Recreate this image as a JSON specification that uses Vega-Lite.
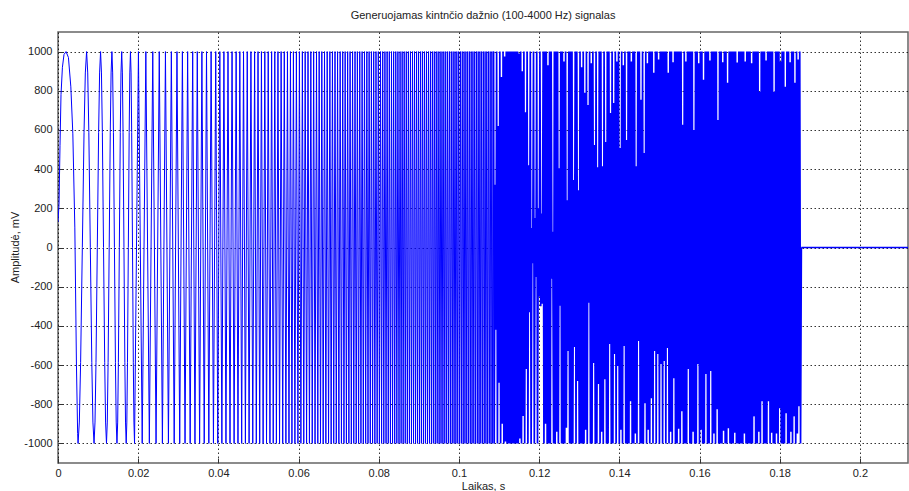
{
"$schema":"https://vega.github.io/schema/vega-lite/v6.json",
"width":850,"height":431,
"autosize":{"type":"none"},
"padding":{"left":58,"top":32,"right":1,"bottom":28},
"background":"white",
"title":{"text":"Generuojamas kintnčio dažnio (100-4000 Hz) signalas","font":"Liberation Sans","fontSize":11,"fontWeight":"normal","color":"#222","offset":11,"anchor":"middle"},
"config":{"view":{"stroke":"#666","strokeWidth":1.5},
"axis":{"labelFont":"Liberation Sans","labelFontSize":11,"labelColor":"#222","titleFont":"Liberation Sans","titleFontSize":11,"titleFontWeight":"normal","titleColor":"#222","labelFlush":false,"labelOverlap":false,"gridDash":[1.5,2.5],"gridColor":"#000","gridOpacity":0.8,"gridWidth":1,"tickColor":"#333","tickSize":-5,"domain":false,"zindex":0}},
"data":{"values":[
{"t":0,"a":130},{"t":0.00025,"a":220},{"t":0.0005,"a":520},{"t":0.00075,"a":780},{"t":0.0011,"a":920},{"t":0.0015,"a":985},{"t":0.002,"a":1000},{"t":0.0026,"a":970},{"t":0.0032,"a":820},{"t":0.0037,"a":580},{"t":0.0042,"a":100},{"t":0.0046,"a":-600},{"t":0.0049,"a":-950},{"t":0.005,"a":-1000},
{"t":0.00532,"a":-891},{"t":0.005641,"a":-588},{"t":0.006068,"a":0},{"t":0.006495,"a":588},{"t":0.006815,"a":891},{"t":0.007135,"a":1000},
{"t":0.007413,"a":891},{"t":0.007691,"a":588},{"t":0.008061,"a":0},{"t":0.008431,"a":-588},{"t":0.008709,"a":-891},{"t":0.008987,"a":-1000},
{"t":0.009232,"a":-891},{"t":0.009476,"a":-588},{"t":0.009803,"a":0},{"t":0.010129,"a":588},{"t":0.010374,"a":891},{"t":0.010618,"a":1000},
{"t":0.010839,"a":891},{"t":0.01106,"a":588},{"t":0.011355,"a":0},{"t":0.011649,"a":-588},{"t":0.01187,"a":-891},{"t":0.012091,"a":-1000},
{"t":0.012294,"a":-891},{"t":0.012497,"a":-588},{"t":0.012768,"a":0},{"t":0.013039,"a":588},{"t":0.013242,"a":891},{"t":0.013445,"a":1000},
{"t":0.013634,"a":891},{"t":0.013823,"a":588},{"t":0.014076,"a":0},{"t":0.014328,"a":-588},{"t":0.014517,"a":-891},{"t":0.014706,"a":-1000},
{"t":0.014884,"a":-891},{"t":0.015061,"a":-588},{"t":0.015298,"a":0},{"t":0.015535,"a":588},{"t":0.015712,"a":891},{"t":0.01589,"a":1000},
{"t":0.016058,"a":891},{"t":0.016226,"a":588},{"t":0.01645,"a":0},{"t":0.016673,"a":-588},{"t":0.016841,"a":-891},{"t":0.017009,"a":-1000},
{"t":0.017169,"a":-891},{"t":0.017328,"a":-588},{"t":0.017541,"a":0},{"t":0.017754,"a":588},{"t":0.017913,"a":891},{"t":0.018073,"a":1000},
{"t":0.018226,"a":891},{"t":0.018378,"a":588},{"t":0.018582,"a":0},{"t":0.018785,"a":-588},{"t":0.018937,"a":-891},{"t":0.01909,"a":-1000},
{"t":0.020065,"a":1000},{"t":0.021003,"a":-1000},{"t":0.021909,"a":1000},{"t":0.022784,"a":-1000},{"t":0.023633,"a":1000},{"t":0.024457,"a":-1000},{"t":0.025258,"a":1000},{"t":0.026039,"a":-1000},{"t":0.0268,"a":1000},{"t":0.027543,"a":-1000},{"t":0.02827,"a":1000},{"t":0.02898,"a":-1000},{"t":0.029676,"a":1000},{"t":0.030359,"a":-1000},{"t":0.031028,"a":1000},{"t":0.031685,"a":-1000},{"t":0.03233,"a":1000},{"t":0.032965,"a":-1000},{"t":0.033589,"a":1000},
{"t":0.03416,"a":-1000},{"t":0.03474,"a":1000},{"t":0.03532,"a":-1000},{"t":0.03589,"a":1000},{"t":0.03647,"a":-1000},{"t":0.03704,"a":1000},{"t":0.03762,"a":-1000},{"t":0.03819,"a":1000},{"t":0.03877,"a":-1000},{"t":0.03934,"a":1000},
{"t":0.03985,"a":-1000},{"t":0.04036,"a":1000},{"t":0.04087,"a":-1000},{"t":0.04138,"a":1000},{"t":0.04189,"a":-1000},{"t":0.0424,"a":1000},{"t":0.0429,"a":-1000},{"t":0.04341,"a":1000},{"t":0.04392,"a":-1000},{"t":0.04443,"a":1000},
{"t":0.04489,"a":-1000},{"t":0.04535,"a":1000},{"t":0.04581,"a":-1000},{"t":0.04627,"a":1000},{"t":0.04674,"a":-1000},{"t":0.0472,"a":1000},{"t":0.04766,"a":-1000},{"t":0.04812,"a":1000},{"t":0.04858,"a":-1000},{"t":0.04904,"a":1000},
{"t":0.04946,"a":-1000},{"t":0.04989,"a":1000},{"t":0.05031,"a":-1000},{"t":0.05074,"a":1000},{"t":0.05116,"a":-1000},{"t":0.05158,"a":1000},{"t":0.05201,"a":-1000},{"t":0.05243,"a":1000},{"t":0.05286,"a":-1000},{"t":0.05328,"a":1000},
{"t":0.05368,"a":-1000},{"t":0.05407,"a":1000},{"t":0.05447,"a":-1000},{"t":0.05486,"a":1000},{"t":0.05526,"a":-1000},{"t":0.05565,"a":1000},{"t":0.05605,"a":-1000},{"t":0.05644,"a":1000},{"t":0.05684,"a":-1000},{"t":0.05723,"a":1000},
{"t":0.05761,"a":-1000},{"t":0.05798,"a":1000},{"t":0.05835,"a":-1000},{"t":0.05872,"a":1000},{"t":0.05909,"a":-1000},{"t":0.05946,"a":1000},{"t":0.05984,"a":-1000},{"t":0.06021,"a":1000},{"t":0.06058,"a":-1000},{"t":0.06095,"a":1000},
{"t":0.0613,"a":-1000},{"t":0.06165,"a":1000},{"t":0.062,"a":-1000},{"t":0.06236,"a":1000},{"t":0.06271,"a":-1000},{"t":0.06306,"a":1000},{"t":0.06341,"a":-1000},{"t":0.06376,"a":1000},{"t":0.06411,"a":-1000},{"t":0.06447,"a":1000},
{"t":0.0648,"a":-1000},{"t":0.06514,"a":1000},{"t":0.06547,"a":-1000},{"t":0.0658,"a":1000},{"t":0.06614,"a":-1000},{"t":0.06647,"a":1000},{"t":0.06681,"a":-1000},{"t":0.06714,"a":1000},{"t":0.06748,"a":-1000},{"t":0.06781,"a":1000},
{"t":0.06813,"a":-1000},{"t":0.06845,"a":1000},{"t":0.06877,"a":-1000},{"t":0.06909,"a":1000},{"t":0.06941,"a":-1000},{"t":0.06973,"a":1000},{"t":0.07005,"a":-1000},{"t":0.07037,"a":1000},{"t":0.07069,"a":-1000},{"t":0.07101,"a":1000},
{"t":0.07132,"a":-1000},{"t":0.07162,"a":1000},{"t":0.07193,"a":-1000},{"t":0.07224,"a":1000},{"t":0.07255,"a":-1000},{"t":0.07285,"a":1000},{"t":0.07316,"a":-1000},{"t":0.07347,"a":1000},{"t":0.07377,"a":-1000},{"t":0.07408,"a":1000},
{"t":0.07438,"a":-1000},{"t":0.07467,"a":1000},{"t":0.07497,"a":-1000},{"t":0.07526,"a":1000},{"t":0.07556,"a":-1000},{"t":0.07585,"a":1000},{"t":0.07615,"a":-1000},{"t":0.07644,"a":1000},{"t":0.07674,"a":-1000},{"t":0.07703,"a":1000},
{"t":0.07732,"a":-1000},{"t":0.0776,"a":1000},{"t":0.07789,"a":-1000},{"t":0.07817,"a":1000},{"t":0.07846,"a":-1000},{"t":0.07874,"a":1000},{"t":0.07903,"a":-1000},{"t":0.07931,"a":1000},{"t":0.0796,"a":-1000},{"t":0.07989,"a":1000},
{"t":0.08016,"a":-1000},{"t":0.08044,"a":1000},{"t":0.08071,"a":-1000},{"t":0.08099,"a":1000},{"t":0.08126,"a":-1000},{"t":0.08154,"a":1000},{"t":0.08182,"a":-1000},{"t":0.08209,"a":1000},{"t":0.08237,"a":-1000},{"t":0.08264,"a":1000},
{"t":0.08291,"a":-1000},{"t":0.08318,"a":1000},{"t":0.08344,"a":-1000},{"t":0.08371,"a":1000},{"t":0.08398,"a":-1000},{"t":0.08425,"a":1000},{"t":0.08451,"a":-1000},{"t":0.08478,"a":1000},{"t":0.08505,"a":-1000},{"t":0.08532,"a":1000},
{"t":0.08558,"a":-1000},{"t":0.08584,"a":1000},{"t":0.08609,"a":-1000},{"t":0.08635,"a":1000},{"t":0.08661,"a":-1000},{"t":0.08687,"a":1000},{"t":0.08713,"a":-1000},{"t":0.08739,"a":1000},{"t":0.08765,"a":-1000},{"t":0.08791,"a":1000},
{"t":0.08816,"a":-1000},{"t":0.08842,"a":1000},{"t":0.08867,"a":-1000},{"t":0.08892,"a":1000},{"t":0.08918,"a":-1000},{"t":0.08943,"a":1000},{"t":0.08968,"a":-1000},{"t":0.08993,"a":1000},{"t":0.09019,"a":-1000},{"t":0.09044,"a":1000},
{"t":0.09068,"a":-1000},{"t":0.09093,"a":1000},{"t":0.09118,"a":-1000},{"t":0.09142,"a":1000},{"t":0.09167,"a":-1000},{"t":0.09191,"a":1000},{"t":0.09216,"a":-1000},{"t":0.09241,"a":1000},{"t":0.09265,"a":-1000},{"t":0.0929,"a":1000},
{"t":0.09314,"a":-1000},{"t":0.09338,"a":1000},{"t":0.09362,"a":-1000},{"t":0.09386,"a":1000},{"t":0.0941,"a":-1000},{"t":0.09434,"a":1000},{"t":0.09458,"a":-1000},{"t":0.09482,"a":1000},{"t":0.09506,"a":-1000},{"t":0.0953,"a":1000},
{"t":0.09553,"a":-1000},{"t":0.09577,"a":1000},{"t":0.096,"a":-1000},{"t":0.09623,"a":1000},{"t":0.09647,"a":-1000},{"t":0.0967,"a":1000},{"t":0.09694,"a":-1000},{"t":0.09717,"a":1000},{"t":0.09741,"a":-1000},{"t":0.09764,"a":1000},
{"t":0.09787,"a":-1000},{"t":0.0981,"a":1000},{"t":0.09833,"a":-1000},{"t":0.09856,"a":1000},{"t":0.09879,"a":-1000},{"t":0.09902,"a":1000},{"t":0.09924,"a":-1000},{"t":0.09947,"a":1000},{"t":0.0997,"a":-1000},{"t":0.09993,"a":1000},
{"t":0.10016,"a":-1000},{"t":0.10038,"a":1000},{"t":0.10061,"a":-1000},{"t":0.10083,"a":1000},{"t":0.10106,"a":-1000},{"t":0.10128,"a":1000},{"t":0.1015,"a":-1000},{"t":0.10173,"a":1000},{"t":0.10195,"a":-1000},{"t":0.10217,"a":1000},
{"t":0.10239,"a":-1000},{"t":0.10261,"a":1000},{"t":0.10283,"a":-1000},{"t":0.10305,"a":1000},{"t":0.10327,"a":-1000},{"t":0.10349,"a":1000},{"t":0.10371,"a":-1000},{"t":0.10393,"a":1000},{"t":0.10415,"a":-1000},{"t":0.10437,"a":1000},
{"t":0.10459,"a":-1000},{"t":0.1048,"a":1000},{"t":0.10502,"a":-1000},{"t":0.10523,"a":1000},{"t":0.10545,"a":-1000},{"t":0.10566,"a":1000},{"t":0.10588,"a":-1000},{"t":0.10609,"a":1000},{"t":0.10631,"a":-1000},{"t":0.10652,"a":1000},
{"t":0.10673,"a":-1000},{"t":0.10694,"a":1000},{"t":0.10716,"a":-1000},{"t":0.10737,"a":1000},{"t":0.10758,"a":-1000},{"t":0.10779,"a":1000},{"t":0.108,"a":-1000},{"t":0.10821,"a":1000},{"t":0.10842,"a":-1000},{"t":0.10863,"a":1000},
{"t":0.1088,"a":-1000},{"t":0.109,"a":320},{"t":0.1092,"a":-420},{"t":0.1094,"a":1000},{"t":0.1096,"a":-1000},{"t":0.1098,"a":620},{"t":0.11,"a":-690},{"t":0.1102,"a":1000},{"t":0.1104,"a":-1000},{"t":0.1106,"a":870},{"t":0.1108,"a":-900},{"t":0.111,"a":1000},{"t":0.1112,"a":-1000},{"t":0.1114,"a":975},{"t":0.1116,"a":-990},
{"t":0.1118,"a":1000},{"t":0.112,"a":-1000},{"t":0.1122,"a":1000},{"t":0.1124,"a":-1000},{"t":0.1126,"a":1000},{"t":0.1128,"a":-1000},{"t":0.113,"a":1000},{"t":0.1132,"a":-1000},{"t":0.1134,"a":1000},{"t":0.1136,"a":-1000},{"t":0.1138,"a":1000},{"t":0.114,"a":-1000},{"t":0.1142,"a":1000},{"t":0.1144,"a":-1000},{"t":0.1146,"a":1000},{"t":0.1148,"a":-1000},
{"t":0.115,"a":990},{"t":0.1152,"a":-975},{"t":0.1154,"a":1000},{"t":0.1156,"a":-1000},{"t":0.1158,"a":900},{"t":0.116,"a":-860},{"t":0.1162,"a":1000},{"t":0.1164,"a":-1000},{"t":0.1166,"a":690},{"t":0.1168,"a":-620},{"t":0.117,"a":1000},{"t":0.1172,"a":-1000},{"t":0.1174,"a":420},{"t":0.1176,"a":-330},{"t":0.1178,"a":1000},{"t":0.118,"a":-1000},{"t":0.1182,"a":100},{"t":0.1184,"a":-80},{"t":0.1186,"a":1000},{"t":0.1188,"a":-1000},{"t":0.119,"a":150},{"t":0.1192,"a":-150},{"t":0.1194,"a":1000},{"t":0.1196,"a":-1000},{"t":0.1198,"a":200},{"t":0.12,"a":-250},{"t":0.1202,"a":1000},{"t":0.1204,"a":-300},
{"t":0.1206,"a":174},{"t":0.1208,"a":-287},{"t":0.121,"a":1000},{"t":0.1212,"a":-1000},{"t":0.1214,"a":1000},{"t":0.1216,"a":-900},{"t":0.1218,"a":1000},{"t":0.122,"a":-1000},{"t":0.1222,"a":930},{"t":0.1224,"a":-1000},{"t":0.1226,"a":1000},{"t":0.1228,"a":-1000},{"t":0.123,"a":1000},{"t":0.1232,"a":-159},{"t":0.1234,"a":80},{"t":0.1236,"a":-1000},{"t":0.1238,"a":1000},{"t":0.124,"a":-1000},{"t":0.1242,"a":1000},{"t":0.1244,"a":-940},{"t":0.1246,"a":1000},{"t":0.1248,"a":-1000},{"t":0.125,"a":405},{"t":0.1252,"a":-297},{"t":0.1254,"a":1000},{"t":0.1256,"a":-1000},{"t":0.1258,"a":1000},{"t":0.126,"a":-1000},{"t":0.1262,"a":950},{"t":0.1264,"a":-1000},{"t":0.1266,"a":1000},{"t":0.1268,"a":-920},{"t":0.127,"a":241},{"t":0.1272,"a":-528},{"t":0.1274,"a":1000},{"t":0.1276,"a":-1000},{"t":0.1278,"a":1000},{"t":0.128,"a":-1000},{"t":0.1282,"a":1000},{"t":0.1284,"a":-1000},{"t":0.1286,"a":344},{"t":0.1288,"a":-508},{"t":0.129,"a":1000},{"t":0.1292,"a":-1000},{"t":0.1294,"a":1000},{"t":0.1296,"a":-682},{"t":0.1298,"a":292},{"t":0.13,"a":-1000},
{"t":0.1302,"a":1000},{"t":0.1304,"a":-1000},{"t":0.1306,"a":920},{"t":0.1308,"a":-1000},{"t":0.131,"a":1000},{"t":0.1312,"a":-1000},{"t":0.1314,"a":790},{"t":0.1316,"a":-930},{"t":0.1318,"a":1000},{"t":0.132,"a":-1000},{"t":0.1322,"a":728},{"t":0.1324,"a":-282},{"t":0.1326,"a":1000},{"t":0.1328,"a":-1000},{"t":0.133,"a":940},{"t":0.1332,"a":-1000},{"t":0.1334,"a":1000},{"t":0.1336,"a":-590},{"t":0.1338,"a":523},{"t":0.134,"a":-1000},{"t":0.1342,"a":1000},{"t":0.1344,"a":-1000},{"t":0.1346,"a":410},{"t":0.1348,"a":-697},{"t":0.135,"a":1000},{"t":0.1352,"a":-1000},{"t":0.1354,"a":1000},{"t":0.1356,"a":-940},{"t":0.1358,"a":415},{"t":0.136,"a":-1000},{"t":0.1362,"a":1000},{"t":0.1364,"a":-672},{"t":0.1366,"a":538},{"t":0.1368,"a":-1000},{"t":0.137,"a":1000},{"t":0.1372,"a":-1000},{"t":0.1374,"a":1000},{"t":0.1376,"a":-492},{"t":0.1378,"a":687},{"t":0.138,"a":-1000},{"t":0.1382,"a":1000},{"t":0.1384,"a":-1000},{"t":0.1386,"a":738},{"t":0.1388,"a":-544},{"t":0.139,"a":1000},{"t":0.1392,"a":-1000},{"t":0.1394,"a":950},{"t":0.1396,"a":-605},{"t":0.1398,"a":1000},{"t":0.14,"a":-1000},
{"t":0.1402,"a":508},{"t":0.1404,"a":-930},{"t":0.1406,"a":1000},{"t":0.1408,"a":-1000},{"t":0.141,"a":930},{"t":0.1412,"a":-503},{"t":0.1414,"a":1000},{"t":0.1416,"a":-1000},{"t":0.1418,"a":549},{"t":0.142,"a":-1000},{"t":0.1422,"a":1000},{"t":0.1424,"a":-1000},{"t":0.1426,"a":1000},{"t":0.1428,"a":-785},{"t":0.143,"a":950},{"t":0.1432,"a":-1000},{"t":0.1434,"a":1000},{"t":0.1436,"a":-1000},{"t":0.1438,"a":1000},{"t":0.144,"a":-950},{"t":0.1442,"a":415},{"t":0.1444,"a":-1000},{"t":0.1446,"a":1000},{"t":0.1448,"a":-477},{"t":0.145,"a":1000},{"t":0.1452,"a":-1000},{"t":0.1454,"a":754},{"t":0.1456,"a":-1000},{"t":0.1458,"a":1000},{"t":0.146,"a":-1000},{"t":0.1462,"a":482},{"t":0.1464,"a":-795},{"t":0.1466,"a":1000},{"t":0.1468,"a":-1000},{"t":0.147,"a":940},{"t":0.1472,"a":-930},{"t":0.1474,"a":1000},{"t":0.1476,"a":-1000},{"t":0.1478,"a":1000},{"t":0.148,"a":-769},{"t":0.1482,"a":1000},{"t":0.1484,"a":-1000},{"t":0.1486,"a":892},{"t":0.1488,"a":-528},{"t":0.149,"a":1000},{"t":0.1492,"a":-1000},{"t":0.1494,"a":1000},{"t":0.1496,"a":-544},{"t":0.1498,"a":960},{"t":0.15,"a":-1000},
{"t":0.1502,"a":1000},{"t":0.1504,"a":-595},{"t":0.1506,"a":1000},{"t":0.1508,"a":-1000},{"t":0.151,"a":1000},{"t":0.1512,"a":-579},{"t":0.1514,"a":1000},{"t":0.1516,"a":-1000},{"t":0.1518,"a":1000},{"t":0.152,"a":-513},{"t":0.1522,"a":892},{"t":0.1524,"a":-1000},{"t":0.1526,"a":1000},{"t":0.1528,"a":-940},{"t":0.153,"a":1000},{"t":0.1532,"a":-1000},{"t":0.1534,"a":945},{"t":0.1536,"a":-667},{"t":0.1538,"a":1000},{"t":0.154,"a":-1000},{"t":0.1542,"a":1000},{"t":0.1544,"a":-1000},{"t":0.1546,"a":1000},{"t":0.1548,"a":-925},{"t":0.155,"a":1000},{"t":0.1552,"a":-1000},{"t":0.1554,"a":1000},{"t":0.1556,"a":-836},{"t":0.1558,"a":626},{"t":0.156,"a":-1000},{"t":0.1562,"a":1000},{"t":0.1564,"a":-1000},{"t":0.1566,"a":950},{"t":0.1568,"a":-1000},{"t":0.157,"a":1000},{"t":0.1572,"a":-620},{"t":0.1574,"a":1000},{"t":0.1576,"a":-1000},{"t":0.1578,"a":1000},{"t":0.158,"a":-1000},{"t":0.1582,"a":1000},{"t":0.1584,"a":-940},{"t":0.1586,"a":600},{"t":0.1588,"a":-1000},{"t":0.159,"a":1000},{"t":0.1592,"a":-1000},{"t":0.1594,"a":1000},{"t":0.1596,"a":-595},{"t":0.1598,"a":940},{"t":0.16,"a":-1000},
{"t":0.1602,"a":1000},{"t":0.1604,"a":-930},{"t":0.1606,"a":1000},{"t":0.1608,"a":-1000},{"t":0.161,"a":856},{"t":0.1612,"a":-1000},{"t":0.1614,"a":1000},{"t":0.1616,"a":-646},{"t":0.1618,"a":1000},{"t":0.162,"a":-1000},{"t":0.1622,"a":1000},{"t":0.1624,"a":-1000},{"t":0.1626,"a":955},{"t":0.1628,"a":-630},{"t":0.163,"a":1000},{"t":0.1632,"a":-1000},{"t":0.1634,"a":1000},{"t":0.1636,"a":-950},{"t":0.1638,"a":1000},{"t":0.164,"a":-1000},{"t":0.1642,"a":1000},{"t":0.1644,"a":-826},{"t":0.1646,"a":651},{"t":0.1648,"a":-1000},{"t":0.165,"a":1000},{"t":0.1652,"a":-1000},{"t":0.1654,"a":1000},{"t":0.1656,"a":-1000},{"t":0.1658,"a":945},{"t":0.166,"a":-935},{"t":0.1662,"a":1000},{"t":0.1664,"a":-1000},{"t":0.1666,"a":1000},{"t":0.1668,"a":-1000},{"t":0.167,"a":841},{"t":0.1672,"a":-923},{"t":0.1674,"a":1000},{"t":0.1676,"a":-1000},{"t":0.1678,"a":1000},{"t":0.168,"a":-1000},{"t":0.1682,"a":1000},{"t":0.1684,"a":-1000},{"t":0.1686,"a":1000},{"t":0.1688,"a":-945},{"t":0.169,"a":1000},{"t":0.1692,"a":-1000},{"t":0.1694,"a":944},{"t":0.1696,"a":-1000},{"t":0.1698,"a":1000},{"t":0.17,"a":-1000},
{"t":0.1702,"a":1000},{"t":0.1704,"a":-1000},{"t":0.1706,"a":1000},{"t":0.1708,"a":-1000},{"t":0.171,"a":1000},{"t":0.1712,"a":-950},{"t":0.1714,"a":950},{"t":0.1716,"a":-1000},{"t":0.1718,"a":1000},{"t":0.172,"a":-1000},{"t":0.1722,"a":1000},{"t":0.1724,"a":-1000},{"t":0.1726,"a":1000},{"t":0.1728,"a":-1000},{"t":0.173,"a":940},{"t":0.1732,"a":-1000},{"t":0.1734,"a":1000},{"t":0.1736,"a":-862},{"t":0.1738,"a":1000},{"t":0.174,"a":-1000},{"t":0.1742,"a":1000},{"t":0.1744,"a":-1000},{"t":0.1746,"a":1000},{"t":0.1748,"a":-940},{"t":0.175,"a":795},{"t":0.1752,"a":-1000},{"t":0.1754,"a":1000},{"t":0.1756,"a":-785},{"t":0.1758,"a":1000},{"t":0.176,"a":-1000},{"t":0.1762,"a":1000},{"t":0.1764,"a":-1000},{"t":0.1766,"a":955},{"t":0.1768,"a":-1000},{"t":0.177,"a":1000},{"t":0.1772,"a":-785},{"t":0.1774,"a":1000},{"t":0.1776,"a":-1000},{"t":0.1778,"a":1000},{"t":0.178,"a":-945},{"t":0.1782,"a":1000},{"t":0.1784,"a":-1000},{"t":0.1786,"a":795},{"t":0.1788,"a":-1000},{"t":0.179,"a":1000},{"t":0.1792,"a":-950},{"t":0.1794,"a":1000},{"t":0.1796,"a":-1000},{"t":0.1798,"a":1000},{"t":0.18,"a":-820},
{"t":0.1802,"a":950},{"t":0.1804,"a":-1000},{"t":0.1806,"a":1000},{"t":0.1808,"a":-1000},{"t":0.181,"a":1000},{"t":0.1812,"a":-1000},{"t":0.1814,"a":820},{"t":0.1816,"a":-846},{"t":0.1818,"a":1000},{"t":0.182,"a":-1000},{"t":0.1822,"a":1000},{"t":0.1824,"a":-1000},{"t":0.1826,"a":945},{"t":0.1828,"a":-940},{"t":0.183,"a":1000},{"t":0.1832,"a":-1000},{"t":0.1834,"a":1000},{"t":0.1836,"a":-862},{"t":0.1838,"a":841},{"t":0.184,"a":-1000},{"t":0.1842,"a":1000},{"t":0.1844,"a":-950},{"t":0.1846,"a":960},{"t":0.1848,"a":-810},{"t":0.185,"a":1000},{"t":0.1852,"a":-1000},
{"t":0.1854,"a":0},{"t":0.212,"a":0}
]},
"encoding":{
"x":{"field":"t","type":"quantitative","scale":{"domain":[0,0.212],"nice":false,"zero":false},
"axis":{"values":[0,0.02,0.04,0.06,0.08,0.1,0.12,0.14,0.16,0.18,0.2],"labelExpr":"toString(datum.value)","grid":true,"labelPadding":9,"title":"Laikas, s","titleX":425,"titleY":23,"titleBaseline":"middle"}},
"y":{"field":"a","type":"quantitative","scale":{"domain":[-1100,1100],"nice":false,"zero":false},
"axis":{"values":[-1000,-800,-600,-400,-200,0,200,400,600,800,1000],"labelExpr":"toString(datum.value)","grid":true,"labelPadding":11,"title":"Amplitudė, mV","titleX":-43,"titleY":215,"titleAngle":-90,"titleBaseline":"middle","titleAlign":"center"}}
},
"layer":[
{"transform":[{"filter":"datum.t <= 0.10864"}],"mark":{"type":"line","color":"#0000ff","strokeWidth":1,"clip":true}},
{"transform":[{"filter":"datum.t >= 0.10863 && datum.t <= 0.18541"}],"mark":{"type":"line","color":"#0000ff","strokeWidth":1.7,"clip":true}},
{"transform":[{"filter":"datum.t >= 0.1854"}],"mark":{"type":"line","color":"#0000ff","strokeWidth":1.5,"clip":true}}
]
}
